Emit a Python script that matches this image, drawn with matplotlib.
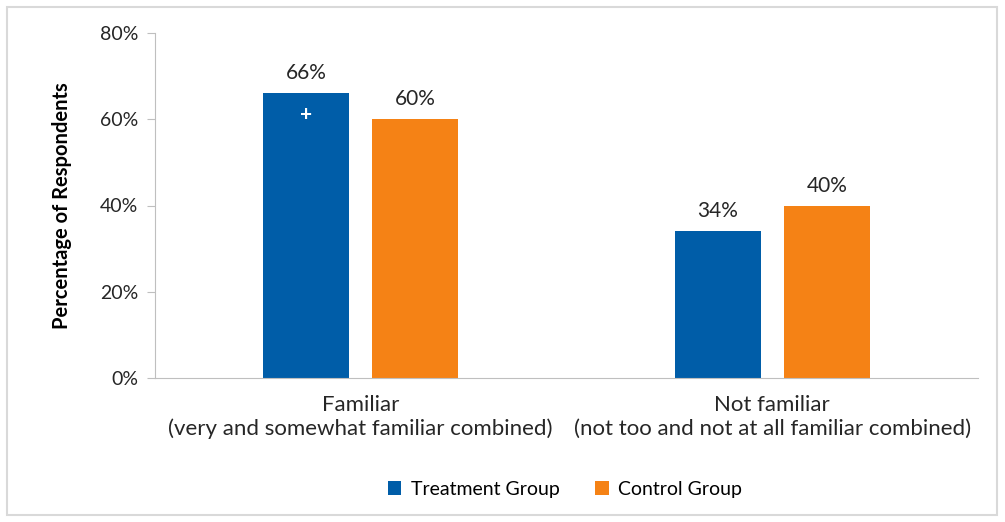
import numpy as np
import matplotlib
matplotlib.use("Agg")
from matplotlib import pyplot as plt
from matplotlib.patches import Rectangle

plt.rcParams['font.family'] = ['Lato', 'DejaVu Sans']

categories = ["Familiar\n(very and somewhat familiar combined)",
              "Not familiar\n(not too and not at all familiar combined)"]
treatment = [66, 34]
control = [60, 40]
series_names = ["Treatment Group", "Control Group"]
y_ticks = [0, 20, 40, 60, 80]

blue = "#005DA8"
orange = "#F58215"
text_color = "#262626"

fig = plt.figure(figsize=(10.05, 5.22), dpi=100)
ax = fig.add_axes([155/1005, 1 - 378/522, 823/1005, 345/522])

fig.patches.append(Rectangle((7/1005, 7/522), 990/1005, 508/522, transform=fig.transFigure,
                             fill=False, edgecolor="#D9D9D9", linewidth=1.5))

x = np.arange(len(categories))
w = 0.21
gap = 0.055
b1 = ax.bar(x - (w + gap)/2, treatment, w, color=blue, label=series_names[0])
b2 = ax.bar(x + (w + gap)/2, control, w, color=orange, label=series_names[1])

for bars, vals in [(b1, treatment), (b2, control)]:
    for r, v in zip(bars, vals):
        ax.text(r.get_x() + r.get_width()/2, v + 2.3, f"{v}%", ha="center", va="bottom",
                fontsize=15, color=text_color)

# significance marker inside the first treatment bar
ax.text(b1[0].get_x() + b1[0].get_width()/2, treatment[0] - 5, "+", ha="center", va="center",
        fontsize=15, color="white", fontweight="bold")

ax.set_xlim(-0.5, 1.5)
ax.set_ylim(0, 80)
ax.set_yticks(y_ticks)
ax.set_yticklabels([f"{t}%" for t in y_ticks], fontsize=14, color=text_color)
ax.set_xticks(x)
ax.set_xticklabels(categories, fontsize=16, color=text_color, linespacing=1.25)
ax.tick_params(axis="x", length=0, pad=12)
ax.tick_params(axis="y", length=6, color="#BFBFBF", pad=6)

for s in ["top", "right"]:
    ax.spines[s].set_visible(False)
ax.spines["left"].set_color("#BFBFBF")
ax.spines["bottom"].set_color("#BFBFBF")

ax.set_ylabel("Percentage of Respondents", fontsize=14.5, fontweight="bold", color="black", labelpad=20)

ax.legend(loc="center", bbox_to_anchor=(565/1005, 1 - 489/522), bbox_transform=fig.transFigure,
          ncol=2, frameon=False, fontsize=14, handlelength=0.7, handleheight=0.7,
          columnspacing=1.8, handletextpad=0.5)

fig.savefig("out.png", dpi=100)
